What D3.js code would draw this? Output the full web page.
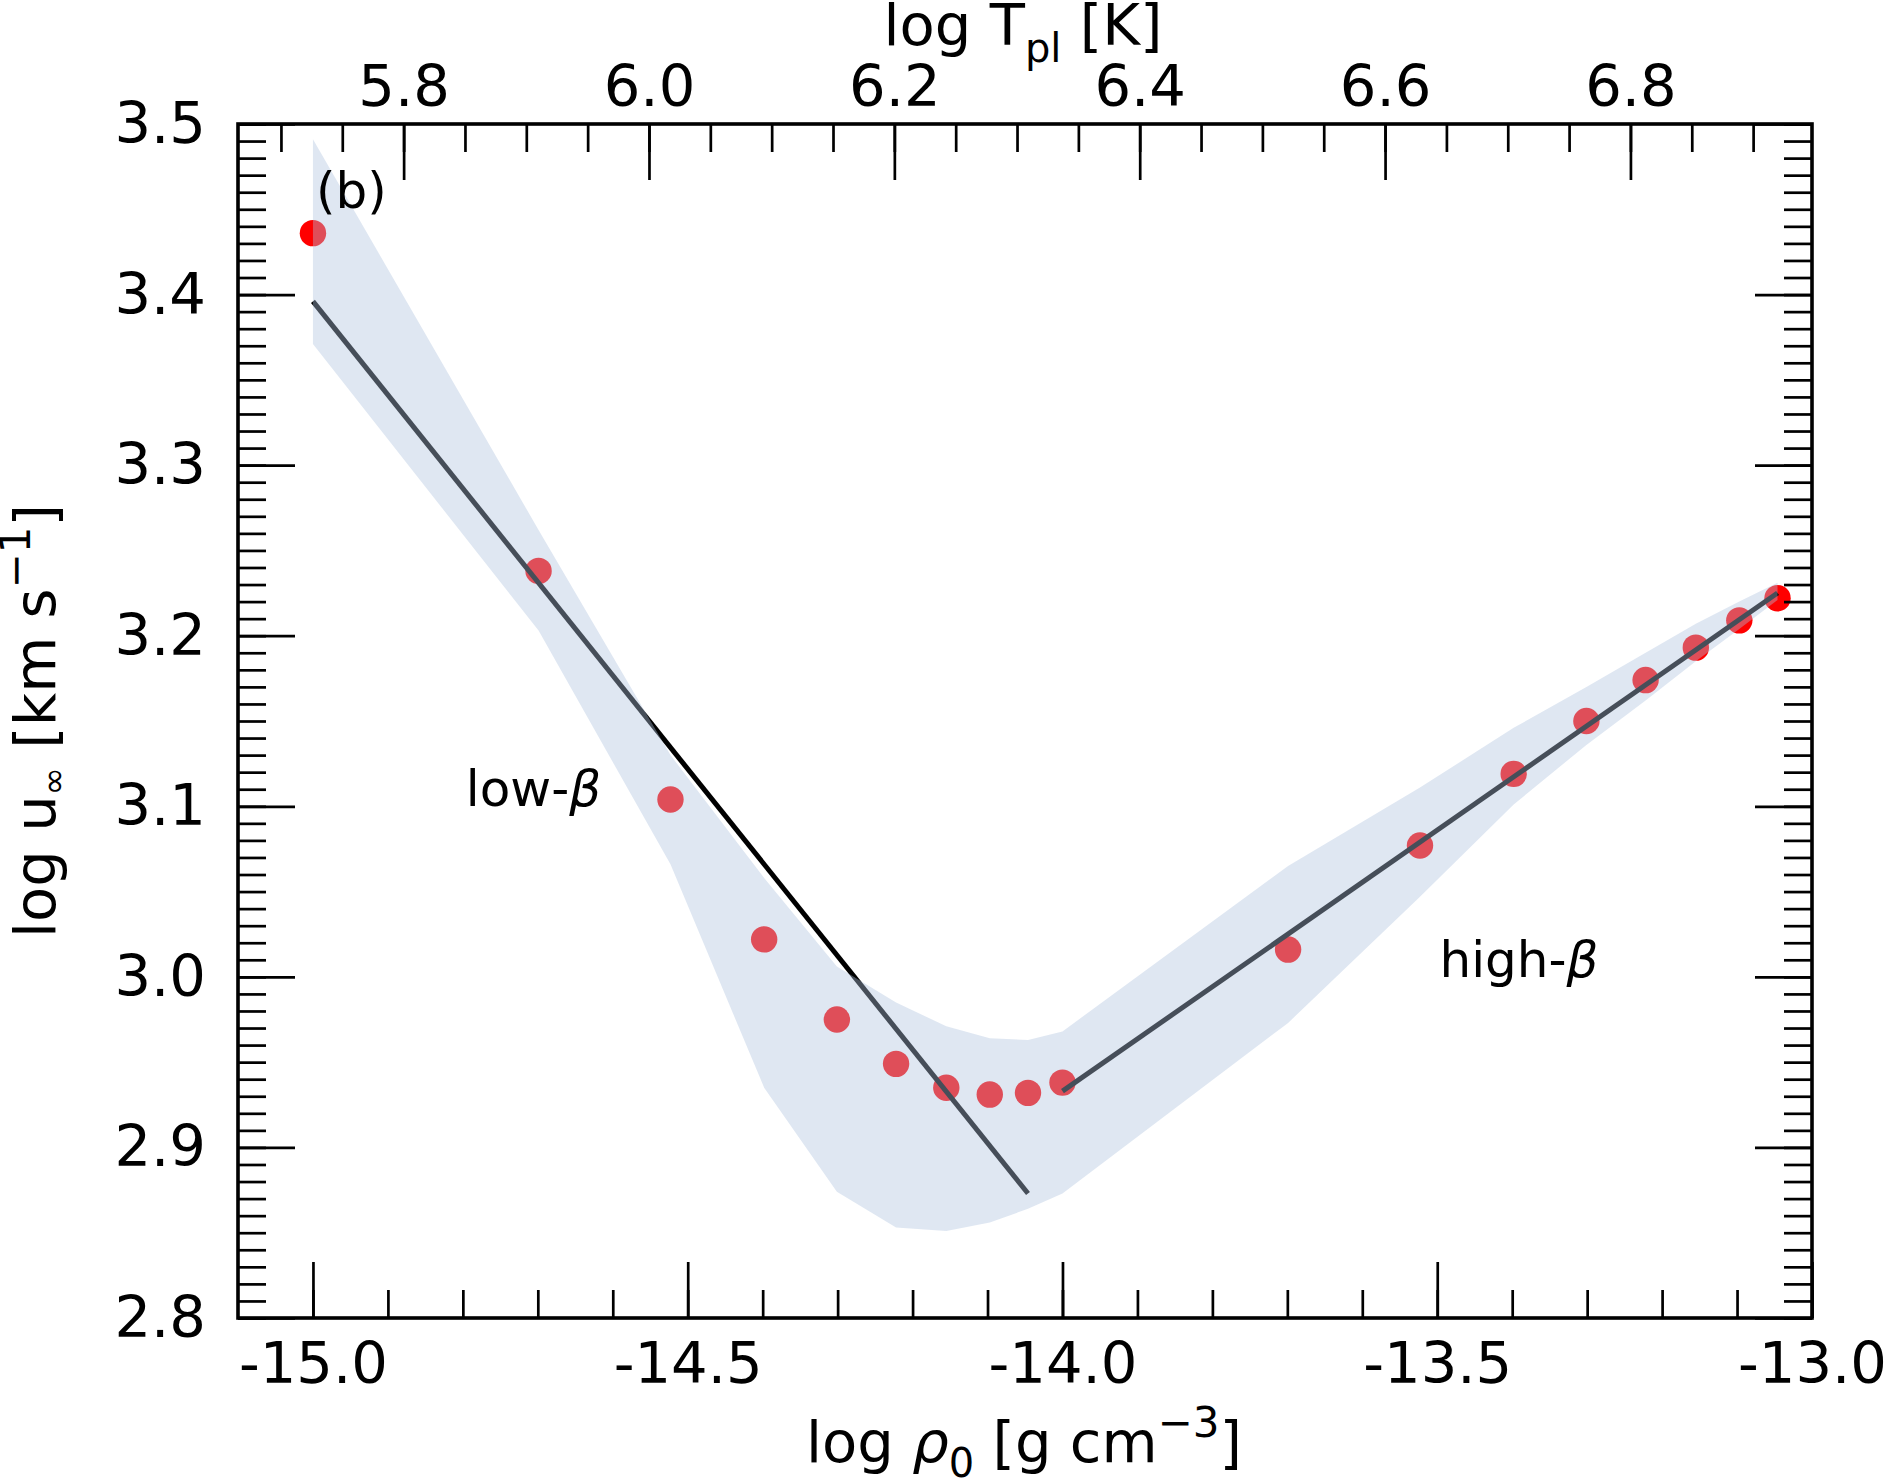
<!DOCTYPE html>
<html>
<head>
<meta charset="utf-8">
<script src="https://cdn.jsdelivr.net/npm/d3@7"></script>
<style>
  body { margin: 0; background: #fff; }
  text { font-family: "DejaVu Sans", sans-serif; fill: #000; }
</style>
</head>
<body>
<svg id="chart"></svg>
<script>
// log rho_0 of each model and its terminal speed
var logRho = [-15.000, -14.699, -14.523, -14.398, -14.301, -14.222, -14.155, -14.097, -14.046,
              -14.000, -13.699, -13.523, -13.398, -13.301, -13.222, -13.155, -13.097, -13.046];
var logU = [3.436, 3.238, 3.104, 3.022, 2.975, 2.949, 2.935, 2.931, 2.932,
            2.938, 3.016, 3.077, 3.119, 3.150, 3.174, 3.193, 3.209, 3.222];
// spread band
var bandUpper = [3.491, 3.262, 3.130, 3.058, 3.006, 2.985, 2.971, 2.964, 2.963,
                 2.968, 3.065, 3.111, 3.146, 3.170, 3.190, 3.207, 3.220, 3.231];
var bandLower = [3.371, 3.203, 3.066, 2.935, 2.874, 2.853, 2.851, 2.856, 2.864,
                 2.873, 2.973, 3.047, 3.101, 3.136, 3.162, 3.185, 3.204, 3.221];
// power law fits
var fitLowX = [-15.0, -14.046];
var fitLowY = [3.396, 2.873];
var fitHighX = [-14.0, -13.046];
var fitHighY = [2.933, 3.225];

var xTicks = [-15.0, -14.5, -14.0, -13.5, -13.0];
var yTicks = [2.8, 2.9, 3.0, 3.1, 3.2, 3.3, 3.4, 3.5];
var topTicks = [5.8, 6.0, 6.2, 6.4, 6.6, 6.8];

var W = 1884, H = 1479;
var plotL = 238, plotR = 1812, plotT = 124, plotB = 1318;
var fontSize = 57.6;

var svg = d3.select("#chart").attr("width", W).attr("height", H);

var x = d3.scaleLinear().domain([-15.1, -13.0]).range([plotL, plotR]);
var y = d3.scaleLinear().domain([2.8, 3.5]).range([plotB, plotT]);
var xTop = d3.scaleLinear().domain([5.665, 6.948]).range([plotL, plotR]);

var fmt = function(d) { return d.toFixed(1); };

// points first, then fits, band drawn over both
svg.append("g").selectAll("circle")
    .data(logRho)
    .enter().append("circle")
    .attr("cx", function(d) { return x(d); })
    .attr("cy", function(d, i) { return y(logU[i]); })
    .attr("r", 13.2)
    .attr("fill", "#ff0000");

var line = d3.line()
    .x(function(d) { return x(d[0]); })
    .y(function(d) { return y(d[1]); });

svg.append("path")
    .attr("d", line(d3.zip(fitLowX, fitLowY)))
    .attr("fill", "none").attr("stroke", "#000").attr("stroke-width", 5);
svg.append("path")
    .attr("d", line(d3.zip(fitHighX, fitHighY)))
    .attr("fill", "none").attr("stroke", "#000").attr("stroke-width", 5);

var band = d3.area()
    .x(function(d) { return x(d); })
    .y0(function(d, i) { return y(bandLower[i]); })
    .y1(function(d, i) { return y(bandUpper[i]); });

svg.append("path")
    .attr("d", band(logRho))
    .attr("fill", "lightsteelblue")
    .attr("fill-opacity", 0.4);

// axes, ticks pointing inward
function styleAxis(g) {
    g.select(".domain").remove();
    g.selectAll("line").attr("stroke", "#000").attr("stroke-width", 2.7);
    g.selectAll("text").attr("font-size", fontSize).attr("font-family", "DejaVu Sans");
}

var xMinor = d3.range(-150, -129).map(function(d) { return d / 10; });
var yMinor = d3.range(280, 351).map(function(d) { return d / 100; });
var topMinor = d3.range(114, 139).map(function(d) { return d / 20; });

svg.append("g").attr("transform", "translate(0," + plotB + ")")
    .call(d3.axisBottom(x).tickValues(xMinor).tickSize(-28).tickFormat(""))
    .call(styleAxis);
svg.append("g").attr("transform", "translate(0," + plotB + ")")
    .call(d3.axisBottom(x).tickValues(xTicks).tickSize(-56).tickPadding(24).tickFormat(fmt))
    .call(styleAxis);

svg.append("g").attr("transform", "translate(0," + plotT + ")")
    .call(d3.axisTop(xTop).tickValues(topMinor).tickSize(-28).tickFormat(""))
    .call(styleAxis);
svg.append("g").attr("transform", "translate(0," + plotT + ")")
    .call(d3.axisTop(xTop).tickValues(topTicks).tickSize(-56).tickPadding(18).tickFormat(fmt))
    .call(styleAxis);

svg.append("g").attr("transform", "translate(" + plotL + ",0)")
    .call(d3.axisLeft(y).tickValues(yMinor).tickSize(-28).tickFormat(""))
    .call(styleAxis);
svg.append("g").attr("transform", "translate(" + plotL + ",0)")
    .call(d3.axisLeft(y).tickValues(yTicks).tickSize(-57).tickPadding(32).tickFormat(fmt))
    .call(styleAxis);

svg.append("g").attr("transform", "translate(" + plotR + ",0)")
    .call(d3.axisRight(y).tickValues(yMinor).tickSize(-28).tickFormat(""))
    .call(styleAxis);
svg.append("g").attr("transform", "translate(" + plotR + ",0)")
    .call(d3.axisRight(y).tickValues(yTicks).tickSize(-57).tickFormat(""))
    .call(styleAxis);

svg.append("rect")
    .attr("x", plotL).attr("y", plotT)
    .attr("width", plotR - plotL).attr("height", plotB - plotT)
    .attr("fill", "none").attr("stroke", "#000").attr("stroke-width", 3.6);

// axis titles
var tTop = svg.append("text").attr("x", (plotL + plotR) / 2 - 2).attr("y", 45)
    .attr("text-anchor", "middle").attr("font-size", fontSize);
tTop.append("tspan").text("log T");
tTop.append("tspan").attr("font-size", 40).attr("dy", 17).text("pl");
tTop.append("tspan").attr("dy", -17).text(" [K]");

var tBot = svg.append("text").attr("x", (plotL + plotR) / 2 - 1).attr("y", 1462)
    .attr("text-anchor", "middle").attr("font-size", fontSize);
tBot.append("tspan").text("log ");
tBot.append("tspan").attr("font-style", "italic").text("\u03c1");
tBot.append("tspan").attr("font-size", 40).attr("dy", 15).text("0");
tBot.append("tspan").attr("dy", -15).text(" [g cm");
tBot.append("tspan").attr("font-size", 42).attr("dy", -25).text("\u22123");
tBot.append("tspan").attr("dy", 25).text("]");

var tLeft = svg.append("text")
    .attr("transform", "translate(55," + (plotT + plotB) / 2 + ") rotate(-90)")
    .attr("text-anchor", "middle").attr("font-size", fontSize);
tLeft.append("tspan").text("log u");
tLeft.append("tspan").attr("font-size", 34).attr("dy", 10).text("\u221e");
tLeft.append("tspan").attr("dy", -10).text(" [km s");
tLeft.append("tspan").attr("font-size", 42).attr("dy", -25).text("\u22121");
tLeft.append("tspan").attr("dy", 25).text("]");

// annotations
svg.append("text").attr("x", x(-14.996)).attr("y", y(3.451))
    .attr("font-size", 50).text("(b)");

var lowB = svg.append("text").attr("x", x(-14.796)).attr("y", y(3.10)).attr("font-size", 50);
lowB.append("tspan").text("low-");
lowB.append("tspan").attr("font-style", "italic").text("\u03b2");

var highB = svg.append("text").attr("x", x(-13.497)).attr("y", y(3.0)).attr("font-size", 50);
highB.append("tspan").text("high-");
highB.append("tspan").attr("font-style", "italic").text("\u03b2");
</script>
</body>
</html>
